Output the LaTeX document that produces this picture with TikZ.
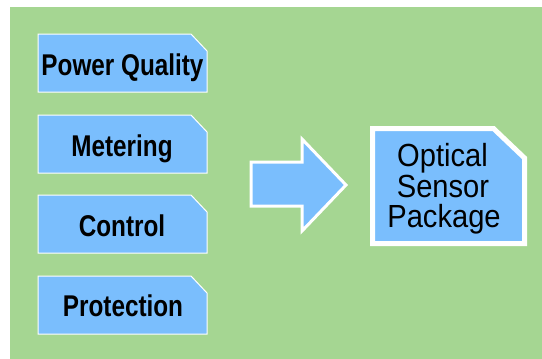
\documentclass[tikz,border=0pt]{standalone}
\usepackage{fontspec}
\newfontfamily\condfont[FakeStretch=0.81]{Liberation Sans}
\newfontfamily\condfontb[FakeStretch=0.91]{Liberation Sans}
\definecolor{bggreen}{RGB}{165,214,146}
\definecolor{boxblue}{RGB}{122,190,253}
\tikzset{
  smallbox/.style={fill=boxblue,draw=white,line width=1pt},
  smalltext/.style={inner sep=0pt,anchor=base,font=\condfont\bfseries\fontsize{30}{32}\selectfont},
  bigbox/.style={fill=boxblue,draw=white,line width=5pt,line join=miter},
  bigtext/.style={inner sep=0pt,anchor=base,font=\condfontb\fontsize{32}{32}\selectfont},
  arrowshape/.style={fill=boxblue,draw=white,line width=3pt,line join=miter}
}
\begin{document}
\begin{tikzpicture}[x=1pt,y=-1pt]
\useasboundingbox (0,0) rectangle (542,359);
\fill[white] (0,0) rectangle (542,359);
\fill[bggreen] (10,7) rectangle (542,359);
% small boxes
\foreach \t in {34,115,195,276}{
  \path[smallbox] (38,\t) -- (191,\t) -- (207,\t+17) -- (207,\t+58) -- (38,\t+58) -- cycle;
}
\node[smalltext] (pq) at (122.5,75.3) {Power Quality};
\node[smalltext] (met) at (122,156.5) {Metering};
\node[smalltext] (ctl) at (122,236.5) {Control};
\node[smalltext] (prot) at (123,316.8) {Protection};
% arrow
\path[arrowshape] (251,162) -- (302,162) -- (302,139) -- (346,185) -- (302,231) -- (302,206) -- (251,206) -- cycle;
% big box
\path[bigbox] (372.5,128.5) -- (493.5,128.5) -- (524.5,158) -- (524.5,243.5) -- (372.5,243.5) -- cycle;
\node[bigtext] (opt) at (442.5,166.8) {Optical};
\node[bigtext] (sen) at (443,197) {Sensor};
\node[bigtext] (pkg) at (444,227) {Package};
\end{tikzpicture}
\end{document}
